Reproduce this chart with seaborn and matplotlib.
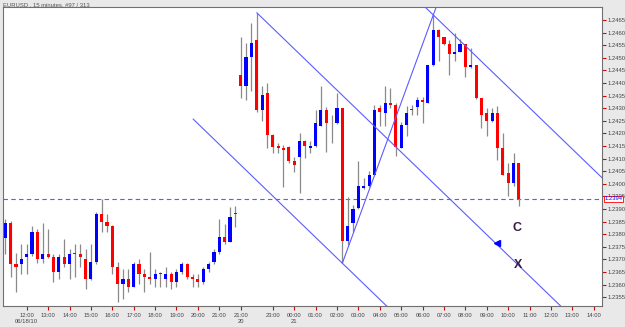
import matplotlib
matplotlib.use("Agg")
import matplotlib.pyplot as plt
import seaborn as sns
import numpy as np
import pandas as pd

# EURUSD 15 min bars (bar index 0..96)
opens = [1.23784, 1.23843, 1.23682, 1.23682, 1.23711, 1.23721, 1.23810, 1.23702, 1.23721, 1.23711,
         1.23651, 1.23711, 1.23682, 1.23721, 1.23721, 1.23700, 1.23621, 1.23691, 1.23880, 1.23850,
         1.23833, 1.23671, 1.23602, 1.23621, 1.23592, 1.23682, 1.23642, 1.23631, 1.23621, 1.23642,
         1.23621, 1.23642, 1.23612, 1.23651, 1.23682, 1.23631, 1.23621, 1.23612, 1.23662, 1.23691,
         1.23731, 1.23790, 1.23770, 1.23880, 1.24432, 1.24388, 1.24502, 1.24571, 1.24293, 1.24359,
         1.24194, 1.24151, 1.24143, 1.24147, 1.24092, 1.24108, 1.24171, 1.24143, 1.24151, 1.24230,
         1.24293, 1.24240, 1.24240, 1.24300, 1.23774, 1.23843, 1.23903, 1.23982, 1.23991, 1.24035,
         1.24302, 1.24282, 1.24319, 1.24311, 1.24143, 1.24233, 1.24293, 1.24304, 1.24333, 1.24322,
         1.24471, 1.24610, 1.24581, 1.24553, 1.24514, 1.24524, 1.24553, 1.24465, 1.24471, 1.24339,
         1.24282, 1.24250, 1.24282, 1.24141, 1.24042, 1.24002, 1.24081]
highs = [1.23859, 1.23852, 1.23724, 1.23761, 1.23761, 1.23833, 1.23820, 1.23843, 1.23820, 1.23721,
         1.23721, 1.23781, 1.23741, 1.23761, 1.23761, 1.23741, 1.23761, 1.23889, 1.23938, 1.23880,
         1.23835, 1.23691, 1.23662, 1.23662, 1.23691, 1.23702, 1.23662, 1.23731, 1.23662, 1.23651,
         1.23671, 1.23651, 1.23662, 1.23691, 1.23684, 1.23642, 1.23642, 1.23671, 1.23691, 1.23741,
         1.23859, 1.23840, 1.23909, 1.23912, 1.24581, 1.24560, 1.24639, 1.24679, 1.24388, 1.24401,
         1.24196, 1.24161, 1.24154, 1.24150, 1.24108, 1.24200, 1.24174, 1.24171, 1.24293, 1.24388,
         1.24306, 1.24273, 1.24359, 1.24302, 1.23949, 1.23916, 1.24092, 1.24022, 1.24052, 1.24313,
         1.24313, 1.24388, 1.24379, 1.24320, 1.24246, 1.24309, 1.24313, 1.24346, 1.24346, 1.24473,
         1.24670, 1.24613, 1.24583, 1.24571, 1.24600, 1.24573, 1.24555, 1.24540, 1.24473, 1.24341,
         1.24300, 1.24300, 1.24309, 1.24200, 1.24081, 1.24121, 1.24083]
lows = [1.23721, 1.23631, 1.23572, 1.23642, 1.23642, 1.23713, 1.23684, 1.23684, 1.23706, 1.23609,
        1.23621, 1.23671, 1.23621, 1.23631, 1.23671, 1.23581, 1.23619, 1.23682, 1.23810, 1.23810,
        1.23642, 1.23532, 1.23542, 1.23572, 1.23590, 1.23602, 1.23572, 1.23602, 1.23592, 1.23592,
        1.23592, 1.23581, 1.23592, 1.23642, 1.23621, 1.23592, 1.23592, 1.23602, 1.23651, 1.23682,
        1.23721, 1.23761, 1.23768, 1.23830, 1.24339, 1.24332, 1.24369, 1.24285, 1.24250, 1.24141,
        1.24121, 1.24121, 1.23988, 1.24081, 1.24048, 1.23962, 1.24101, 1.24121, 1.24146, 1.24228,
        1.24127, 1.24161, 1.24238, 1.23685, 1.23757, 1.23810, 1.23901, 1.23980, 1.23989, 1.24033,
        1.24229, 1.24229, 1.24301, 1.24110, 1.24141, 1.24190, 1.24273, 1.24273, 1.24240, 1.24320,
        1.24469, 1.24488, 1.24551, 1.24432, 1.24487, 1.24522, 1.24423, 1.24458, 1.24336, 1.24220,
        1.24190, 1.24246, 1.24094, 1.24035, 1.23952, 1.23991, 1.23912]
closes = [1.23843, 1.23682, 1.23671, 1.23702, 1.23721, 1.23810, 1.23702, 1.23721, 1.23711, 1.23651,
          1.23711, 1.23682, 1.23721, 1.23722, 1.23711, 1.23621, 1.23691, 1.23880, 1.23850, 1.23833,
          1.23671, 1.23602, 1.23621, 1.23592, 1.23682, 1.23642, 1.23631, 1.23621, 1.23642, 1.23643,
          1.23642, 1.23612, 1.23651, 1.23682, 1.23631, 1.23621, 1.23612, 1.23662, 1.23682, 1.23731,
          1.23790, 1.23770, 1.23869, 1.23881, 1.24388, 1.24502, 1.24560, 1.24293, 1.24352, 1.24194,
          1.24147, 1.24143, 1.24134, 1.24092, 1.24075, 1.24171, 1.24151, 1.24151, 1.24240, 1.24293,
          1.24240, 1.24241, 1.24300, 1.23774, 1.23833, 1.23900, 1.23991, 1.23991, 1.24035, 1.24293,
          1.24284, 1.24319, 1.24311, 1.24147, 1.24233, 1.24282, 1.24294, 1.24333, 1.24323, 1.24471,
          1.24610, 1.24581, 1.24553, 1.24514, 1.24524, 1.24553, 1.24465, 1.24471, 1.24339, 1.24273,
          1.24250, 1.24282, 1.24141, 1.24035, 1.24002, 1.24081, 1.23940]

# x tick labels (bar index, text)
tick_bars = [4, 8, 12, 16, 20, 24, 28, 32, 36, 40, 44, 50, 54, 58, 62, 66, 70, 74, 78,
             82, 86, 90, 94, 98, 102, 106, 110]
tick_text = ["12:00\n06/18/10", "13:00", "14:00", "15:00", "16:00", "17:00", "18:00", "19:00",
             "20:00", "21:00", "21:00\n20", "23:00", "00:00\n21", "01:00", "02:00", "03:00",
             "04:00", "05:00", "06:00", "07:00", "08:00", "09:00", "10:00", "11:00", "12:00",
             "13:00", "14:00"]

# drawn trend / channel lines: (bar, price) endpoints
channel_lines = [
    ([47, 110], [1.24679, 1.23388]),
    ([35.1, 80], [1.24257, 1.23336]),
    ([78, 115], [1.24711, 1.23953]),
    ([63, 81], [1.23685, 1.24728]),
]
last_price = 1.2394
arrow_pos = (91.85, 1.23766)
labels_cx = [("C", 95.7, 1.23823), ("X", 95.9, 1.23678)]

df = pd.DataFrame({"open": opens, "high": highs, "low": lows, "close": closes})
df["bar"] = np.arange(len(df))

sns.set_style("white")
plt.rcParams["font.family"] = ["Liberation Sans", "DejaVu Sans"]

fig = plt.figure(figsize=(6.25, 3.27), dpi=100, facecolor="#e9e9e9")
ax = fig.add_axes([0.0048, 0.0627, 0.9576, 0.917])
ax.set_facecolor("white")

diff = df["close"] - df["open"]
colors = np.where(diff > 0.00003, "#0000ff", np.where(diff < -0.00003, "#ff0000", "#404040"))
body_lo = np.minimum(df["open"], df["close"])
body_h = np.maximum(np.abs(diff), 0.000025)

ax.vlines(df["bar"], df["low"], df["high"], color="#8a8a8a", lw=0.9, zorder=2)
ax.bar(df["bar"], body_h, bottom=body_lo, width=0.58, color=colors, linewidth=0, zorder=3)

for xs, ys in channel_lines:
    ax.plot(xs, ys, color="#5c5cff", lw=0.8, zorder=4)

ax.axhline(last_price, color="#5c5cff", lw=0.8, ls=(0, (4, 3)), zorder=1)
ax.plot([arrow_pos[0]], [arrow_pos[1]], marker="<", color="#0000ff", markersize=4, zorder=5)
for txt, bx, py in labels_cx:
    ax.text(bx, py, txt, color="#3a1a44", fontsize=9, fontweight="bold",
            ha="center", va="center", zorder=6)

ax.set_xlim(-0.43, 111.44)
ax.set_ylim(1.23513, 1.24703)

yt = np.round(np.arange(1.2355, 1.24651, 0.0005), 4)
ax.yaxis.tick_right()
ax.set_yticks(yt)
ax.set_yticklabels([f"{v:.4f}" for v in yt])
ax.set_xticks(tick_bars)
ax.set_xticklabels(tick_text, linespacing=1.4)
ax.tick_params(axis="both", which="both", length=3, width=0.8, color="#e00000",
               labelsize=4.2, labelcolor="#444444", pad=1.5)
ax.tick_params(axis="y", right=True, left=False)
ax.tick_params(axis="x", bottom=True)

for sp in ax.spines.values():
    sp.set_color("#707070")
    sp.set_linewidth(0.8)

ax.text(1.005, last_price, f"{last_price:.4f}", transform=ax.get_yaxis_transform(),
        fontsize=4.2, color="#0000ff", va="center", ha="left", zorder=10, clip_on=False,
        bbox=dict(boxstyle="square,pad=0.12", fc="white", ec="#ff0000", lw=0.6))

fig.text(0.005, 0.993, "EURUSD , 15 minutes, #97 / 313", fontsize=4.2, color="#555555",
         va="top", ha="left")

fig.savefig("out.png", dpi=100, facecolor=fig.get_facecolor())
